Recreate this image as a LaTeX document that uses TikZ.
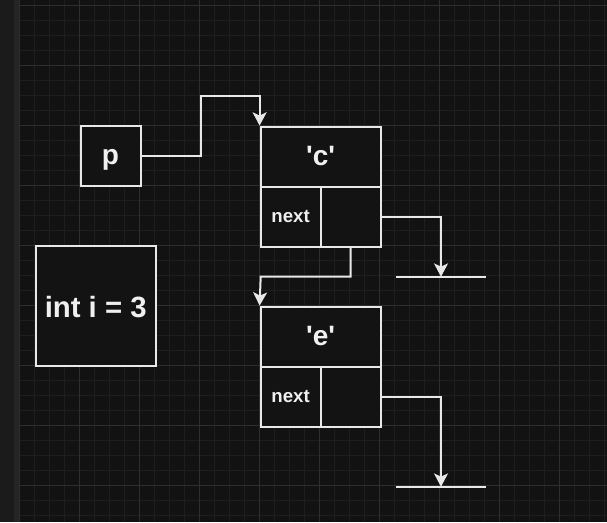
\documentclass[tikz,border=0pt]{standalone}
\usepackage{fontspec}
\setmainfont{Liberation Sans}
\usetikzlibrary{arrows.meta}
\definecolor{bgc}{HTML}{121212}
\definecolor{stripc}{HTML}{1B1B1B}
\definecolor{stripedge}{HTML}{252525}
\definecolor{minorc}{HTML}{1E1E1E}
\definecolor{majorc}{HTML}{2E2E2E}
\definecolor{linec}{HTML}{E8E8E8}
\definecolor{textc}{HTML}{F0F0F0}
\definecolor{boxfill}{HTML}{131313}
\tikzset{
  box/.style={draw=linec, fill=boxfill, line width=1.5pt, inner sep=0pt, text=textc, font=\bfseries, text depth=0pt},
  conn/.style={draw=linec, line width=1.5pt},
  arr/.style={conn, -{Stealth[length=10pt,width=10.5pt,inset=2.5pt]}},
}
\begin{document}
\begin{tikzpicture}[x=0.75pt,y=-0.75pt]
\useasboundingbox (0,0) rectangle (607,522);
% background
\fill[bgc] (0,0) rectangle (607,522);
\fill[stripc] (0,0) rectangle (14,522);
\fill[stripedge] (14,0) rectangle (19,522);
% grid
\foreach \x in {19,34,...,607} \draw[minorc, line width=0.75pt] (\x,0) -- (\x,522);
\foreach \y in {5,20,...,522} \draw[minorc, line width=0.75pt] (19,\y) -- (607,\y);
\foreach \x in {19,79,...,607} \draw[majorc, line width=0.75pt] (\x,0) -- (\x,522);
\foreach \y in {5,65,...,522} \draw[majorc, line width=0.75pt] (19,\y) -- (607,\y);
% nodes
\node[box, minimum width=45pt, minimum height=45pt, text height=12pt, font=\bfseries\fontsize{21}{24}\selectfont] (p) at (110.5,156.4) {p};
\node[box, minimum width=90pt, minimum height=90pt, text height=16.5pt, font=\bfseries\fontsize{22}{26}\selectfont] (int) at (95.7,306.3) {int i = 3};
\node[box, minimum width=90pt, minimum height=45pt, text height=13.5pt, font=\bfseries\fontsize{21}{24}\selectfont] (ctop) at (320.6,156.6) {\textquotesingle c\textquotesingle};
\node[box, minimum width=45pt, minimum height=45pt, text height=8.25pt, font=\bfseries\fontsize{14}{16}\selectfont] (cnext) at (290.6,216.6) {next};
\node[box, minimum width=45pt, minimum height=45pt] (cptr) at (350.6,216.6) {};
\node[box, minimum width=90pt, minimum height=45pt, text height=13.5pt, font=\bfseries\fontsize{21}{24}\selectfont] (etop) at (320.6,336.6) {\textquotesingle e\textquotesingle};
\node[box, minimum width=45pt, minimum height=45pt, text height=8.25pt, font=\bfseries\fontsize{14}{16}\selectfont] (enext) at (290.6,396.6) {next};
\node[box, minimum width=45pt, minimum height=45pt] (eptr) at (350.6,396.6) {};
% helper coordinates
\coordinate (k1) at (200.7,96.3);
\coordinate (k2) at (260.7,276.7);
\coordinate (nullc) at (441,276.7);
\coordinate (nullcL) at (395.7,276.7);
\coordinate (nullcR) at (485.7,276.7);
\coordinate (nulle) at (441,486.7);
\coordinate (nulleL) at (395.7,486.7);
\coordinate (nulleR) at (485.7,486.7);
% connectors
\draw[arr] (p.east) -| (k1) -| (ctop.north west);
\draw[arr] (cptr.east) -| (nullc);
\draw[conn] (nullcL) -- (nullcR);
\draw[arr] (cptr.south) |- (k2) -- (etop.north west);
\draw[arr] (eptr.east) -| (nulle);
\draw[conn] (nulleL) -- (nulleR);
\end{tikzpicture}
\end{document}
